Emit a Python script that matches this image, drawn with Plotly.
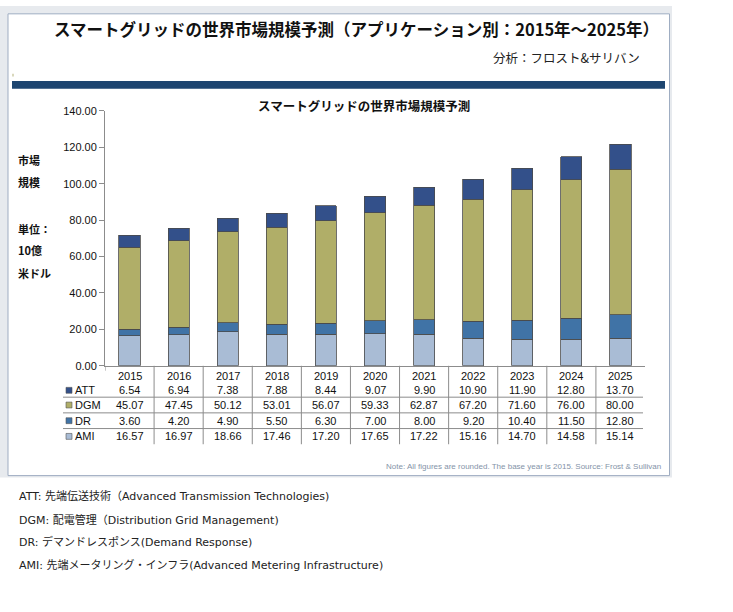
import plotly.graph_objects as go

years = ["2015", "2016", "2017", "2018", "2019", "2020", "2021", "2022", "2023", "2024", "2025"]
ami = [16.57, 16.97, 18.66, 17.46, 17.20, 17.65, 17.22, 15.16, 14.70, 14.58, 15.14]
dr = [3.60, 4.20, 4.90, 5.50, 6.30, 7.00, 8.00, 9.20, 10.40, 11.50, 12.80]
dgm = [45.07, 47.45, 50.12, 53.01, 56.07, 59.33, 62.87, 67.20, 71.60, 76.00, 80.00]
att = [6.54, 6.94, 7.38, 7.88, 8.44, 9.07, 9.90, 10.90, 11.90, 12.80, 13.70]

series_names = ["ATT", "DGM", "DR", "AMI"]
series_values = [att, dgm, dr, ami]
colors = {"ATT": "#33508a", "DGM": "#b0ae68", "DR": "#4073a6", "AMI": "#a9bcd5"}

title = "スマートグリッドの世界市場規模予測（アプリケーション別：2015年～2025年）"
subtitle = "分析：フロスト&サリバン"
inner_title = "スマートグリッドの世界市場規模予測"
ylabel_lines = ["市場", "規模", "単位：", "10億", "米ドル"]
note = "Note: All figures are rounded. The base year is 2015. Source: Frost & Sullivan"
footnotes = [
    "ATT: 先端伝送技術（Advanced Transmission Technologies)",
    "DGM: 配電管理（Distribution Grid Management)",
    "DR: デマンドレスポンス(Demand Response)",
    "AMI: 先端メータリング・インフラ(Advanced Metering Infrastructure)",
]

W, H = 733, 612


def px(x):
    return x / W


def py(y):
    return 1 - y / H


fig = go.Figure()
for name, vals in [("AMI", ami), ("DR", dr), ("DGM", dgm), ("ATT", att)]:
    fig.add_trace(go.Bar(
        x=list(range(len(years))), y=vals, name=name,
        marker=dict(color=colors[name], line=dict(color="#4a4a4a", width=0.8)),
        width=0.43, showlegend=False, hoverinfo="y+name",
    ))

shapes = []
annotations = []

# page background & frame
shapes.append(dict(type="rect", xref="paper", yref="paper", x0=0, x1=px(672), y0=py(481), y1=1,
                   fillcolor="#e7eaee", line=dict(width=0), layer="below"))
shapes.append(dict(type="rect", xref="paper", yref="paper", x0=px(8), x1=px(669.5), y0=py(479), y1=py(8),
                   fillcolor="#ffffff", line=dict(color="#9fadc2", width=1), layer="below"))
# dark band
shapes.append(dict(type="rect", xref="paper", yref="paper", x0=px(12), x1=px(665), y0=py(84.5), y1=py(76.5),
                   fillcolor="#1d4570", line=dict(width=0), layer="below"))
shapes.append(dict(type="rect", xref="paper", yref="paper", x0=px(12), x1=px(14), y0=py(72), y1=py(69),
                   fillcolor="#d9d8bc", line=dict(width=0), layer="below"))

# titles
annotations.append(dict(text="<b>" + title + "</b>", xref="paper", yref="paper", x=px(356), y=py(23.5),
                        showarrow=False, xanchor="center", yanchor="middle",
                        font=dict(family="Noto Sans CJK JP", size=16.5, color="#111111")))
annotations.append(dict(text=subtitle, xref="paper", yref="paper", x=px(642), y=py(53),
                        showarrow=False, xanchor="right", yanchor="middle",
                        font=dict(family="Noto Sans CJK JP", size=12.5, color="#222222")))
annotations.append(dict(text="<b>" + inner_title + "</b>", xref="paper", yref="paper", x=px(364), y=py(101),
                        showarrow=False, xanchor="center", yanchor="middle",
                        font=dict(family="Noto Sans CJK JP", size=12.5, color="#111111")))

# left y label
for txt, yy in zip(ylabel_lines, [157, 180, 227, 249, 272]):
    annotations.append(dict(text="<b>" + txt + "</b>", xref="paper", yref="paper", x=px(16), y=py(yy),
                            showarrow=False, xanchor="left", yanchor="middle",
                            font=dict(family="Noto Sans CJK JP", size=11, color="#111111")))

# data table
tfont = dict(family="Liberation Sans, Arial", size=11, color="#111111")
row_y = [392, 407, 423, 439]
for i, yr in enumerate(years):
    annotations.append(dict(text=yr, xref="x", yref="paper", x=i, y=py(377),
                            showarrow=False, xanchor="center", yanchor="middle", font=tfont))
for name, vals, yy in zip(series_names, series_values, row_y):
    annotations.append(dict(text=name, xref="paper", yref="paper", x=px(73), y=py(yy),
                            showarrow=False, xanchor="left", yanchor="middle", font=tfont))
    shapes.append(dict(type="rect", xref="paper", yref="paper", x0=px(66), x1=px(72),
                       y0=py(yy + 3), y1=py(yy - 3), fillcolor=colors[name],
                       line=dict(color="#555555", width=0.6)))
    for i, v in enumerate(vals):
        annotations.append(dict(text=f"{v:.2f}", xref="x", yref="paper", x=i, y=py(yy),
                                showarrow=False, xanchor="center", yanchor="middle", font=tfont))

for yy in [399, 415, 431]:
    shapes.append(dict(type="line", xref="paper", yref="paper", x0=px(63), x1=px(643), y0=py(yy), y1=py(yy),
                       line=dict(color="#8c8c8c", width=1)))
for i in range(1, len(years)):
    shapes.append(dict(type="line", xref="x", yref="paper", x0=i - 0.5, x1=i - 0.5, y0=py(367), y1=py(447),
                       line=dict(color="#8c8c8c", width=1)))
shapes.append(dict(type="line", xref="x", yref="paper", x0=-0.5, x1=-0.5, y0=py(367), y1=py(372),
                   line=dict(color="#8c8c8c", width=1)))

annotations.append(dict(text=note, xref="paper", yref="paper", x=px(663), y=py(470),
                        showarrow=False, xanchor="right", yanchor="middle",
                        font=dict(family="Liberation Sans, Arial", size=8, color="#8493a8")))

for txt, yy in zip(footnotes, [500, 524, 547, 570]):
    annotations.append(dict(text=txt, xref="paper", yref="paper", x=px(17), y=py(yy),
                            showarrow=False, xanchor="left", yanchor="middle",
                            font=dict(family="DejaVu Sans, Noto Sans CJK JP", size=11, color="#222222")))

fig.update_layout(
    width=W, height=H, margin=dict(l=0, r=0, t=0, b=0),
    paper_bgcolor="#ffffff", plot_bgcolor="rgba(0,0,0,0)",
    barmode="stack",
    shapes=shapes, annotations=annotations,
    xaxis=dict(domain=[px(105), px(645)], range=[-0.5, 10.5], showticklabels=False, ticks="",
               showline=True, linecolor="#8c8c8c", linewidth=1, showgrid=False, zeroline=False,
               fixedrange=True),
    yaxis=dict(domain=[py(367), py(107)], range=[0, 140], tickvals=[0, 20, 40, 60, 80, 100, 120, 140],
               tickformat=".2f", ticks="outside", ticklen=5, tickcolor="#8c8c8c",
               showline=True, linecolor="#8c8c8c", linewidth=1, showgrid=False, zeroline=False,
               tickfont=dict(family="Liberation Sans, Arial", size=11, color="#111111"), fixedrange=True),
)

fig.write_html("out.html", post_script="document.body.style.margin='0';",
               config={"displayModeBar": False})
